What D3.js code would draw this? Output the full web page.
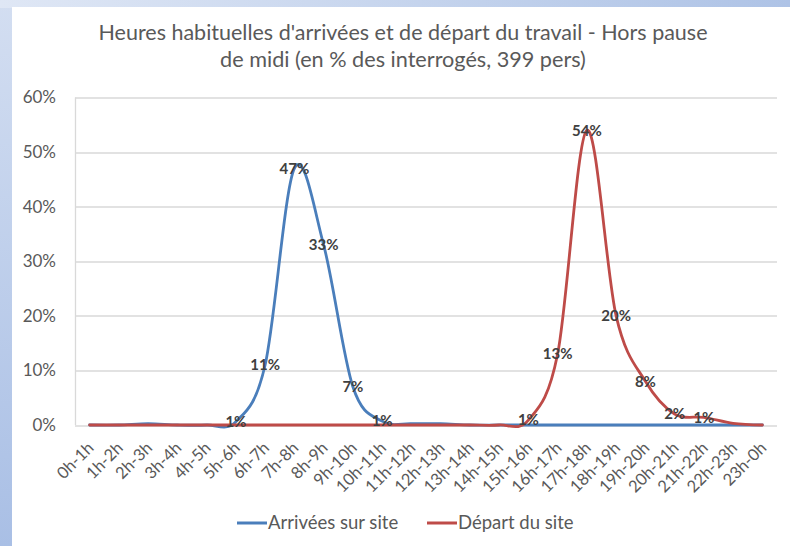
<!DOCTYPE html>
<html>
<head>
<meta charset="utf-8">
<script src="https://cdn.jsdelivr.net/npm/d3@7"></script>
<style>
  body { margin: 0; }
  svg { display: block; font-family: Lato, "Open Sans", sans-serif; }
</style>
</head>
<body>
<div class="container"></div>
<script>
// categories and series (% des interrogés)
var hours = ["0h-1h","1h-2h","2h-3h","3h-4h","4h-5h","5h-6h","6h-7h","7h-8h","8h-9h","9h-10h",
             "10h-11h","11h-12h","12h-13h","13h-14h","14h-15h","15h-16h","16h-17h","17h-18h",
             "18h-19h","19h-20h","20h-21h","21h-22h","22h-23h","23h-0h"];
var arrivees = [0, 0, 0.25, 0, 0, 0.6, 11, 47, 33, 7, 0.7, 0.25, 0.25, 0, 0, 0, 0, 0, 0, 0, 0, 0, 0, 0];
var departs  = [0, 0, 0, 0, 0, 0, 0, 0, 0, 0, 0, 0, 0, 0, 0, 0.9, 13, 54, 20, 8, 2, 1.4, 0.3, 0];
// which points carry a data label
var arrivees_labels = [5, 6, 7, 8, 9, 10];
var departs_labels  = [15, 16, 17, 18, 19, 20, 21];
var y_ticks = [0, 10, 20, 30, 40, 50, 60];
var series_names = ["Arrivées sur site", "Départ du site"];
var title_lines = ["Heures habituelles d'arrivées et de départ du travail - Hors pause",
                   "de midi (en % des interrogés, 399 pers)"];

var W = 790, H = 546;
var margin = {top: 97.5, right: 13, bottom: 121, left: 75},
    width = W - margin.left - margin.right,
    height = H - margin.top - margin.bottom;

var blue = "#4a7ebb", red = "#be4b48", grid = "#d9d9d9", txt = "#595959";

var svg = d3.select("div.container").append("svg")
    .attr("width", W)
    .attr("height", H);

// slide background behind the chart
var defs = svg.append("defs");
var gTop = defs.append("linearGradient").attr("id", "gtop");
gTop.append("stop").attr("offset", "0%").attr("stop-color", "#dfe7f5");
gTop.append("stop").attr("offset", "100%").attr("stop-color", "#aec3e6");
var gLeft = defs.append("linearGradient").attr("id", "gleft")
    .attr("x1", 0).attr("y1", 0).attr("x2", 0).attr("y2", 1);
gLeft.append("stop").attr("offset", "0%").attr("stop-color", "#d3def1");
gLeft.append("stop").attr("offset", "100%").attr("stop-color", "#a9bfe5");

svg.append("rect").attr("width", W).attr("height", H).attr("fill", "url(#gleft)");
svg.append("rect").attr("width", W).attr("height", 8).attr("fill", "url(#gtop)");
svg.append("rect").attr("x", 12).attr("y", 7).attr("width", W - 12).attr("height", H - 7)
    .attr("fill", "#fff");

// title, fitted to the width of the original
var titleWidths = [609, 366];
title_lines.forEach(function (t, i) {
  var el = svg.append("text")
      .attr("x", 403)
      .attr("y", 40 + i * 27)
      .attr("text-anchor", "middle")
      .attr("fill", txt)
      .style("font-size", "19px")
      .text(t);
  var len = el.node().getComputedTextLength();
  el.style("font-size", (19 * titleWidths[i] / len).toFixed(2) + "px");
});

var x_scale = d3.scaleBand().domain(hours).range([0, width]);
var y_scale = d3.scaleLinear().domain([0, 60]).range([height, 0]);
var xc = function (i) { return x_scale(hours[i]) + x_scale.bandwidth() / 2; };

var g = svg.append("g")
    .attr("transform", "translate(" + margin.left + "," + margin.top + ")");

// gridlines
g.selectAll("line.grid")
    .data(y_ticks)
  .enter().append("line")
    .attr("class", "grid")
    .attr("x1", 0).attr("x2", width)
    .attr("y1", function (d) { return Math.round(y_scale(d)) + 0.5; })
    .attr("y2", function (d) { return Math.round(y_scale(d)) + 0.5; })
    .attr("stroke", grid)
    .attr("stroke-width", 1.3);

g.append("line")
    .attr("x1", 0.5).attr("x2", 0.5)
    .attr("y1", 0).attr("y2", height)
    .attr("stroke", grid).attr("stroke-width", 1.3);

// y labels
g.selectAll("text.ytick")
    .data(y_ticks)
  .enter().append("text")
    .attr("class", "ytick")
    .attr("x", -19)
    .attr("y", function (d) { return y_scale(d); })
    .attr("dy", "0.35em")
    .attr("text-anchor", "end")
    .attr("fill", txt)
    .style("font-size", "17px")
    .text(function (d) { return d + "%"; });

// x labels, rotated
g.selectAll("text.xtick")
    .data(hours)
  .enter().append("text")
    .attr("class", "xtick")
    .attr("transform", function (d) {
      return "translate(" + (x_scale(d) + x_scale.bandwidth() / 2 + 1) + "," + (height + 20) + ") rotate(-45)";
    })
    .attr("text-anchor", "end")
    .attr("dy", "0.35em")
    .attr("fill", txt)
    .style("font-size", "16.5px")
    .text(function (d) { return d; });

var line = d3.line()
    .curve(d3.curveCardinal.tension(0))
    .x(function (d, i) { return xc(i); })
    .y(function (d) { return y_scale(d); });

[[arrivees, blue], [departs, red]].forEach(function (s) {
  g.append("path")
      .datum(s[0])
      .attr("fill", "none")
      .attr("stroke", s[1])
      .attr("stroke-width", 2.8)
      .attr("stroke-linejoin", "round")
      .attr("stroke-linecap", "round")
      .attr("d", line);
});

// data labels centred on the points
function plot_labels(values, idx) {
  g.selectAll(null)
      .data(idx)
    .enter().append("text")
      .attr("x", function (i) { return xc(i); })
      .attr("y", function (i) { return y_scale(values[i]); })
      .attr("dy", "0.35em")
      .attr("text-anchor", "middle")
      .attr("fill", "#404040")
      .style("font-size", "15px")
      .style("font-weight", "bold")
      .text(function (i) { return Math.max(1, Math.round(values[i])) + "%"; });
}
plot_labels(arrivees, arrivees_labels);
plot_labels(departs, departs_labels);

// legend
var legend = svg.append("g").attr("transform", "translate(237,523)");
var lx = [0, 190];
series_names.forEach(function (n, i) {
  legend.append("line")
      .attr("x1", lx[i]).attr("x2", lx[i] + 30)
      .attr("y1", 0).attr("y2", 0)
      .attr("stroke", i === 0 ? blue : red)
      .attr("stroke-width", 3);
  legend.append("text")
      .attr("x", lx[i] + 31)
      .attr("y", 0)
      .attr("dy", "0.35em")
      .attr("fill", txt)
      .style("font-size", "18.5px")
      .text(n);
});
</script>
</body>
</html>
